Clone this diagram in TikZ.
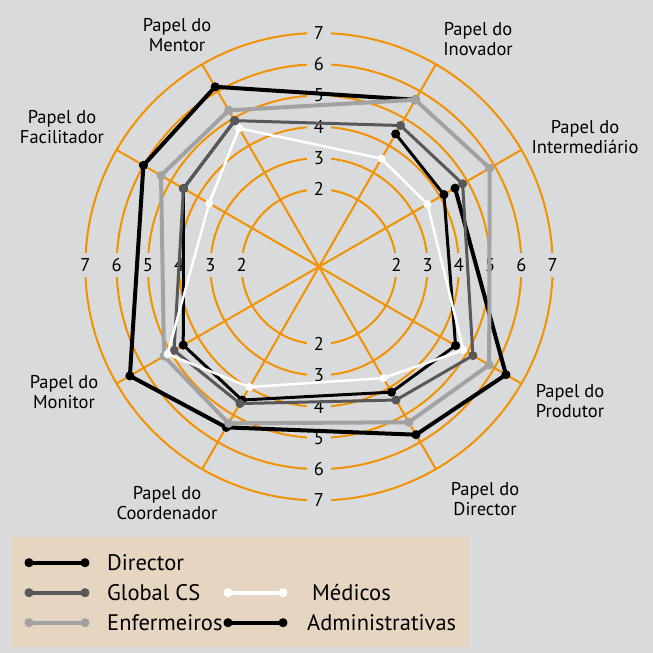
\documentclass[tikz,border=0pt]{standalone}
\usepackage{fontspec}
\setmainfont{PT Sans}

\definecolor{fundo}{HTML}{D9DADC}
\definecolor{laranja}{HTML}{F39200}
\definecolor{legenda}{HTML}{E6D5C1}
\definecolor{cinzaesc}{HTML}{58585A}
\definecolor{cinzacla}{HTML}{A2A2A2}

\begin{document}
\begin{tikzpicture}[x=1pt,y=1pt,
  declare function={raio(\v)=14.8+31.27*\v;},
  grelha/.style={laranja,line width=2pt},
  escala/.style={fill=fundo,inner sep=0pt,minimum width=23pt,minimum height=24pt,font=\fontsize{18.5}{18.5}\selectfont},
  papel/.style={align=center,inner sep=0pt,font=\fontsize{18.5}{19.5}\selectfont},
  leg/.style={anchor=west,inner sep=0pt,font=\fontsize{22.5}{22.5}\selectfont},
  serie/.style={line join=round,line cap=round,mark=*,mark size=4pt,mark options={line width=1pt}},
  director/.style={serie,black,line width=4pt},
  admin/.style={serie,black,line width=3pt},
  globalcs/.style={serie,cinzaesc,line width=3pt},
  enferm/.style={serie,cinzacla,line width=4pt},
  medicos/.style={serie,white,line width=2.5pt,mark size=3.5pt}]
\fill[fundo] (-319,-386.3) rectangle (334,266.7);
\useasboundingbox (-319,-386.3) rectangle (334,266.7);

% grelha
\foreach \v in {2,...,7}
  \draw[grelha] (0,0) circle ({raio(\v)});
\foreach \a in {30,60,120,150,210,240,300,330}
  \draw[grelha] (0,0) -- (\a:{raio(7)});
\foreach \v in {2,...,7} {
  \node[escala] (tc\v) at (90:{raio(\v)}) {\v};
  \node[escala] (tb\v) at (270:{raio(\v)}) {\v};
  \node[escala,yshift=2pt] (td\v) at (0:{raio(\v)}) {\v};
  \node[escala,yshift=2pt] (te\v) at (180:{raio(\v)}) {\v};
}

% papeis
\node[papel] (mentor) at (-142,231.7) {Papel do\\Mentor};
\node[papel] (inovador) at (159,227.7) {Papel do\\Inovador};
\node[papel] (intermed) at (266,129.7) {Papel do\\Intermediário};
\node[papel] (produtor) at (251,-134.3) {Papel do\\Produtor};
\node[papel] (pdirector) at (166,-232.3) {Papel do\\Director};
\node[papel] (coorden) at (-152,-236.3) {Papel do\\Coordenador};
\node[papel] (monitor) at (-255,-125.3) {Papel do\\Monitor};
\node[papel] (facilit) at (-257,139.7) {Papel do\\Facilitador};

% series
\draw[director] plot coordinates {(30:{raio(4.55)}) (330:{raio(6.43)}) (300:{raio(5.73)})
  (240:{raio(5.46)}) (210:{raio(6.51)}) (150:{raio(6.01)}) (120:{raio(6.17)}) (60:{raio(5.69)})};
\draw[admin] plot coordinates {(60:{raio(4.43)}) (30:{raio(4.14)}) (330:{raio(4.57)}) (300:{raio(4.16)})
  (240:{raio(4.45)}) (210:{raio(4.54)}) (150:{raio(4.53)}) (120:{raio(4.92)})};
\draw[enferm] plot coordinates {(120:{raio(5.30)}) (60:{raio(5.69)}) (30:{raio(5.83)}) (330:{raio(5.81)})
  (300:{raio(5.27)}) (240:{raio(5.31)}) (210:{raio(5.25)}) (150:{raio(5.36)}) (120:{raio(5.30)})};
\draw[globalcs] plot coordinates {(120:{raio(4.92)}) (60:{raio(4.74)}) (30:{raio(4.83)}) (330:{raio(5.21)})
  (300:{raio(4.45)}) (240:{raio(4.58)}) (210:{raio(4.88)}) (150:{raio(4.53)}) (120:{raio(4.92)})};
\draw[medicos] plot coordinates {(120:{raio(4.64)}) (60:{raio(3.52)}) (30:{raio(3.53)}) (330:{raio(4.86)})
  (300:{raio(3.64)}) (240:{raio(3.97)}) (210:{raio(5.12)}) (150:{raio(3.58)}) (120:{raio(4.64)})};

% legenda
\fill[legenda] (-307,-270.3) rectangle (151,-380.3);
\draw[director] plot coordinates {(-290,-296) (-234,-296)};
\draw[globalcs,line width=4pt] plot coordinates {(-290,-326) (-234,-326)};
\draw[enferm] plot coordinates {(-290,-356) (-234,-356)};
\draw[medicos,line width=4pt,mark size=4pt] plot coordinates {(-91,-326) (-36,-326)};
\draw[director] plot coordinates {(-91,-356) (-36,-356)};
\node[leg] (lDirector) at (-212,-296) {Director};
\node[leg] (lGlobal) at (-212,-326) {Global CS};
\node[leg] (lEnferm) at (-212,-356) {Enfermeiros};
\node[leg] (lMedicos) at (-7,-326) {Médicos};
\node[leg] (lAdmin) at (-12,-356) {Administrativas};
\end{tikzpicture}
\end{document}
